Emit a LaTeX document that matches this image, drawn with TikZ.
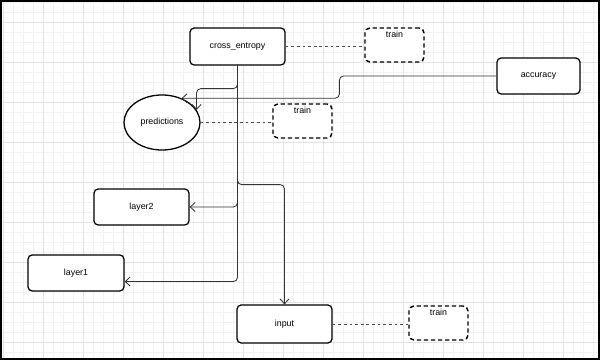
\documentclass[tikz,border=0pt]{standalone}
\usepackage{fontspec}
\setmainfont{Liberation Sans}
\usetikzlibrary{arrows.meta,shapes.geometric}

\begin{document}
\begin{tikzpicture}[
  x=0.025cm, y=-0.025cm,
  font=\fontsize{6.3}{7.5}\selectfont,
  blk/.style={draw=black, line width=.9pt, rounded corners=3pt, fill=white, minimum width=2.375cm, minimum height=0.9cm, inner sep=0pt},
  trainbox/.style={draw=black, line width=1pt, dash pattern=on 3pt off 2pt, rounded corners=3.5pt, fill=white, minimum width=1.475cm, inner xsep=0pt, inner ysep=0.05cm, text height=0.18cm, text depth=0.57cm},
  oval/.style={ellipse, draw=black, line width=.9pt, fill=white, minimum width=1.9cm, minimum height=1.375cm, inner sep=0pt},
  arr/.style={-{Straight Barb[length=3.5pt,width=6.5pt]}, line width=.6pt, draw=black!80, rounded corners=3pt},
  link/.style={line width=.6pt, draw=black!70, dash pattern=on 2pt off 2pt}
]
\useasboundingbox (0,0) rectangle (600,360);
% grid
\foreach \gx in {3,13,...,593} \draw[black!5] (\gx,0) -- (\gx,360);
\foreach \gy in {2,12,...,352} \draw[black!5] (0,\gy) -- (600,\gy);
\foreach \gx in {3,43,...,593} \draw[black!11] (\gx,0) -- (\gx,360);
\foreach \gy in {22,62,...,342} \draw[black!11] (0,\gy) -- (600,\gy);
\draw[line width=1.4pt] (1,1) rectangle (599,359);

\node[blk, minimum height=0.925cm] (ce) at (237.5,46.5) {cross\_entropy};
\node[trainbox] (tr1) at (394.5,45) {train};
\node[blk, minimum width=2.075cm] (acc) at (538.5,76) {accuracy};
\node[oval] (pred) at (162,122.5) {predictions};
\node[trainbox] (tr2) at (302.5,121) {train};
\node[blk] (l2) at (141.5,207) {layer2};
\node[blk, minimum width=2.4cm] (l1) at (76,273) {layer1};
\node[blk, minimum height=0.95cm] (in) at (284.5,324) {input};
\node[trainbox] (tr3) at (438.5,323) {train};

\draw[link] (ce.east) -- (ce.east -| tr1.west);
\draw[link] (pred.east) -- (pred.east -| tr2.west);
\draw[link] (in.east) -- (in.east -| tr3.west);

\draw[arr] (ce.south) -- ++(0,23) -| (pred.20);
\draw[arr] (acc.west) -- ++(-157,0) |- (pred.51);
\draw[arr] (ce.south) |- (l2.east);
\draw[arr] (ce.south) |- (l1.-10);
\draw[arr] (ce.south) -- ++(0,119) -| (in.north);
\end{tikzpicture}
\end{document}
